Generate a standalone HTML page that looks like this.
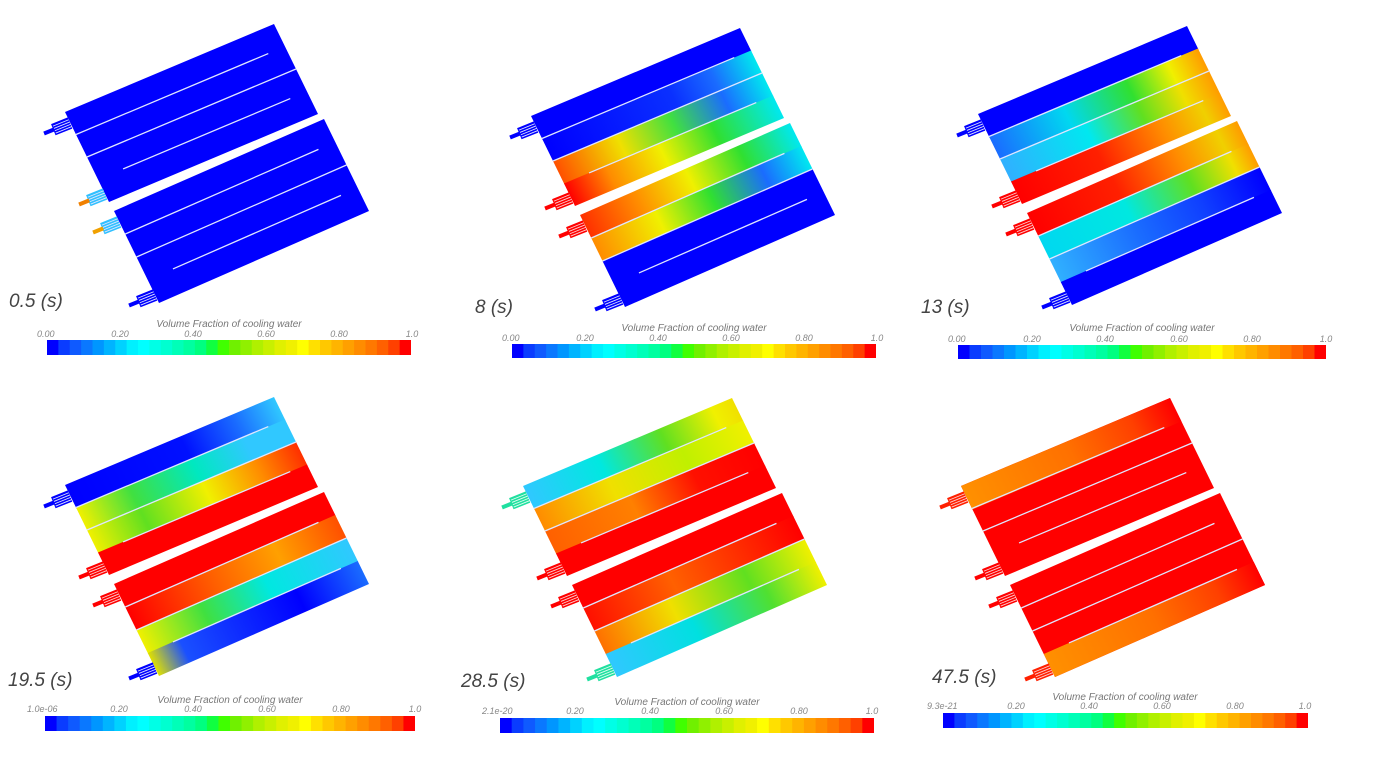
<!DOCTYPE html>
<html><head><meta charset="utf-8"><style>
html,body{margin:0;padding:0;background:#fff;}
svg{display:block;}
.t{font-family:"Liberation Sans",sans-serif;font-style:italic;fill:#444;font-size:19px;}
.lb{font-family:"Liberation Sans",sans-serif;font-style:italic;fill:#888;font-size:9px;}
.ti{font-family:"Liberation Sans",sans-serif;font-style:italic;fill:#777;font-size:10px;}
</style></head><body>
<svg width="1376" height="771" viewBox="0 0 1376 771" xmlns="http://www.w3.org/2000/svg">
<defs>
<symbol id="bar" viewBox="0 0 32 1" preserveAspectRatio="none">
<rect x="0" width="1.05" height="1" fill="#0000ff"/><rect x="1" width="1.05" height="1" fill="#0a3cff"/><rect x="2" width="1.05" height="1" fill="#0f5aff"/><rect x="3" width="1.05" height="1" fill="#0a78ff"/><rect x="4" width="1.05" height="1" fill="#0096ff"/><rect x="5" width="1.05" height="1" fill="#00b4ff"/><rect x="6" width="1.05" height="1" fill="#00d2ff"/><rect x="7" width="1.05" height="1" fill="#00f0ff"/>
<rect x="8" width="1.05" height="1" fill="#00ffff"/><rect x="9" width="1.05" height="1" fill="#00ffe6"/><rect x="10" width="1.05" height="1" fill="#00ffd0"/><rect x="11" width="1.05" height="1" fill="#00ffb8"/><rect x="12" width="1.05" height="1" fill="#00ffa0"/><rect x="13" width="1.05" height="1" fill="#00ff80"/><rect x="14" width="1.05" height="1" fill="#10ff40"/><rect x="15" width="1.05" height="1" fill="#40ff00"/>
<rect x="16" width="1.05" height="1" fill="#70f000"/><rect x="17" width="1.05" height="1" fill="#90f000"/><rect x="18" width="1.05" height="1" fill="#b0f000"/><rect x="19" width="1.05" height="1" fill="#c8f000"/><rect x="20" width="1.05" height="1" fill="#e0f000"/><rect x="21" width="1.05" height="1" fill="#f0f000"/><rect x="22" width="1.05" height="1" fill="#ffff00"/><rect x="23" width="1.05" height="1" fill="#ffe000"/>
<rect x="24" width="1.05" height="1" fill="#ffc800"/><rect x="25" width="1.05" height="1" fill="#ffb400"/><rect x="26" width="1.05" height="1" fill="#ffa000"/><rect x="27" width="1.05" height="1" fill="#ff8c00"/><rect x="28" width="1.05" height="1" fill="#ff7800"/><rect x="29" width="1.05" height="1" fill="#ff6000"/><rect x="30" width="1.05" height="1" fill="#ff4000"/><rect x="31" width="1" height="1" fill="#ff0000"/>
</symbol>
<!-- P2 -->
<linearGradient id="a2"><stop offset="0" stop-color="#0000ff"/><stop offset=".6" stop-color="#0a30ff"/><stop offset=".8" stop-color="#1a6cff"/><stop offset="1" stop-color="#00e8f0"/></linearGradient>
<linearGradient id="a3"><stop offset="0" stop-color="#ff5000"/><stop offset=".3" stop-color="#f0e000"/><stop offset=".55" stop-color="#40e040"/><stop offset=".8" stop-color="#1a6cff"/><stop offset="1" stop-color="#00e8f0"/></linearGradient>
<linearGradient id="a4"><stop offset="0" stop-color="#ff0000"/><stop offset=".2" stop-color="#ff8c00"/><stop offset=".45" stop-color="#f0f000"/><stop offset=".7" stop-color="#30e030"/><stop offset="1" stop-color="#00e8f0"/></linearGradient>
<linearGradient id="a5"><stop offset="0" stop-color="#ff3000"/><stop offset=".25" stop-color="#ff8c00"/><stop offset=".5" stop-color="#f0f000"/><stop offset=".75" stop-color="#30e030"/><stop offset="1" stop-color="#00e8f0"/></linearGradient>
<linearGradient id="a6"><stop offset="0" stop-color="#ff8c00"/><stop offset=".3" stop-color="#f0f000"/><stop offset=".55" stop-color="#30e030"/><stop offset=".8" stop-color="#1a6cff"/><stop offset="1" stop-color="#00e8f0"/></linearGradient>
<!-- P3 -->
<linearGradient id="b2"><stop offset="0" stop-color="#1a6cff"/><stop offset=".35" stop-color="#00d8f0"/><stop offset=".65" stop-color="#30e030"/><stop offset=".85" stop-color="#f0f000"/><stop offset="1" stop-color="#ff9c00"/></linearGradient>
<linearGradient id="b3"><stop offset="0" stop-color="#30b0ff"/><stop offset=".4" stop-color="#00e8f0"/><stop offset=".65" stop-color="#60e020"/><stop offset=".85" stop-color="#f0e000"/><stop offset="1" stop-color="#ff9c00"/></linearGradient>
<linearGradient id="b4"><stop offset="0" stop-color="#ff0000"/><stop offset=".4" stop-color="#ff2000"/><stop offset=".7" stop-color="#ff8c00"/><stop offset=".9" stop-color="#f0d000"/><stop offset="1" stop-color="#ff9c00"/></linearGradient>
<linearGradient id="b6"><stop offset="0" stop-color="#00d8f0"/><stop offset=".4" stop-color="#00e8e0"/><stop offset=".7" stop-color="#60e020"/><stop offset=".9" stop-color="#f0e000"/><stop offset="1" stop-color="#ff9c00"/></linearGradient>
<linearGradient id="b7"><stop offset="0" stop-color="#30b0ff"/><stop offset=".4" stop-color="#1a6cff"/><stop offset=".7" stop-color="#1040ff"/><stop offset="1" stop-color="#0000ff"/></linearGradient>
<!-- P4 -->
<linearGradient id="c1"><stop offset="0" stop-color="#0000ff"/><stop offset=".55" stop-color="#0010ff"/><stop offset=".8" stop-color="#1a6cff"/><stop offset="1" stop-color="#30c8ff"/></linearGradient>
<linearGradient id="c2"><stop offset="0" stop-color="#f0f000"/><stop offset=".25" stop-color="#40e040"/><stop offset=".55" stop-color="#00e8c0"/><stop offset=".8" stop-color="#30c8ff"/><stop offset="1" stop-color="#30c8ff"/></linearGradient>
<linearGradient id="c3"><stop offset="0" stop-color="#f0f000"/><stop offset=".25" stop-color="#60e020"/><stop offset=".55" stop-color="#f0f000"/><stop offset=".8" stop-color="#ff8c00"/><stop offset="1" stop-color="#ff3000"/></linearGradient>
<linearGradient id="c6"><stop offset="0" stop-color="#ff0000"/><stop offset=".4" stop-color="#ff6000"/><stop offset=".7" stop-color="#ffa000"/><stop offset="1" stop-color="#ff5000"/></linearGradient>
<linearGradient id="c7"><stop offset="0" stop-color="#f0f000"/><stop offset=".3" stop-color="#40e040"/><stop offset=".6" stop-color="#00e8e0"/><stop offset="1" stop-color="#30c8ff"/></linearGradient>
<linearGradient id="c8"><stop offset="0" stop-color="#e0e000"/><stop offset=".15" stop-color="#1a50ff"/><stop offset=".7" stop-color="#0000ff"/><stop offset="1" stop-color="#1a6cff"/></linearGradient>
<!-- P5 -->
<linearGradient id="d1"><stop offset="0" stop-color="#30c8ff"/><stop offset=".35" stop-color="#00e8e0"/><stop offset=".65" stop-color="#60e020"/><stop offset=".9" stop-color="#f0f000"/><stop offset="1" stop-color="#f0e000"/></linearGradient>
<linearGradient id="d2"><stop offset="0" stop-color="#ff8c00"/><stop offset=".35" stop-color="#f0e000"/><stop offset=".7" stop-color="#c0f000"/><stop offset="1" stop-color="#f0f000"/></linearGradient>
<linearGradient id="d3"><stop offset="0" stop-color="#ff6000"/><stop offset=".4" stop-color="#ff8000"/><stop offset=".7" stop-color="#ff1000"/><stop offset="1" stop-color="#ff0000"/></linearGradient>
<linearGradient id="d6"><stop offset="0" stop-color="#ff1000"/><stop offset=".4" stop-color="#ff6000"/><stop offset=".7" stop-color="#ff3000"/><stop offset="1" stop-color="#ff0000"/></linearGradient>
<linearGradient id="d7"><stop offset="0" stop-color="#ff7000"/><stop offset=".35" stop-color="#f0e000"/><stop offset=".7" stop-color="#60e020"/><stop offset="1" stop-color="#f0f000"/></linearGradient>
<linearGradient id="d8"><stop offset="0" stop-color="#30c8ff"/><stop offset=".4" stop-color="#00e0e0"/><stop offset=".75" stop-color="#50e030"/><stop offset="1" stop-color="#f0f000"/></linearGradient>
<!-- P6 -->
<linearGradient id="e1"><stop offset="0" stop-color="#ff9000"/><stop offset=".5" stop-color="#ff7000"/><stop offset=".8" stop-color="#ff4000"/><stop offset="1" stop-color="#ff0000"/></linearGradient>
<linearGradient id="e8"><stop offset="0" stop-color="#ff9000"/><stop offset=".5" stop-color="#ff7000"/><stop offset=".8" stop-color="#ff4000"/><stop offset="1" stop-color="#ff0000"/></linearGradient>
<g id="lines">
<line x1="0" y1=".25" x2=".92" y2=".25" stroke="#dfe6ff" stroke-width="1.3" vector-effect="non-scaling-stroke"/>
<line x1="0" y1=".5" x2="1" y2=".5" stroke="#dfe6ff" stroke-width="1.3" vector-effect="non-scaling-stroke"/>
<line x1=".12" y1=".75" x2=".92" y2=".75" stroke="#dfe6ff" stroke-width="1.3" vector-effect="non-scaling-stroke"/>
</g>
</defs>

<!-- PANEL 1 -->
<g>
<g transform="matrix(209,-88,44,90,65,112)"><rect width="1" height="1" fill="#0000ff"/><use href="#lines"/></g>
<g transform="matrix(210,-92,45,92,114,211)"><rect width="1" height="1" fill="#0000ff"/><use href="#lines"/></g>
</g>

<!-- PANEL 2 -->
<g transform="translate(466,4)">
<g transform="matrix(209,-88,44,90,65,112)"><rect width="1" height=".26" fill="#0000ff"/><rect y=".25" width="1" height=".26" fill="url(#a2)"/><rect y=".5" width="1" height=".26" fill="url(#a3)"/><rect y=".75" width="1" height=".25" fill="url(#a4)"/><use href="#lines"/></g>
<g transform="matrix(210,-92,45,92,114,211)"><rect width="1" height=".26" fill="url(#a5)"/><rect y=".25" width="1" height=".26" fill="url(#a6)"/><rect y=".5" width="1" height=".5" fill="#0000ff"/><use href="#lines"/></g>
</g>

<!-- PANEL 3 -->
<g transform="translate(913,2)">
<g transform="matrix(209,-88,44,90,65,112)"><rect width="1" height=".26" fill="#0000ff"/><rect y=".25" width="1" height=".26" fill="url(#b2)"/><rect y=".5" width="1" height=".26" fill="url(#b3)"/><rect y=".75" width="1" height=".25" fill="url(#b4)"/><use href="#lines"/></g>
<g transform="matrix(210,-92,45,92,114,211)"><rect width="1" height=".26" fill="url(#b4)"/><rect y=".25" width="1" height=".26" fill="url(#b6)"/><rect y=".5" width="1" height=".26" fill="url(#b7)"/><rect y=".75" width="1" height=".25" fill="#0000ff"/><use href="#lines"/></g>
</g>

<!-- PANEL 4 -->
<g transform="translate(0,373)">
<g transform="matrix(209,-88,44,90,65,112)"><rect width="1" height=".26" fill="url(#c1)"/><rect y=".25" width="1" height=".26" fill="url(#c2)"/><rect y=".5" width="1" height=".26" fill="url(#c3)"/><rect y=".75" width="1" height=".25" fill="#ff0000"/><use href="#lines"/></g>
<g transform="matrix(210,-92,45,92,114,211)"><rect width="1" height=".26" fill="#ff0000"/><rect y=".25" width="1" height=".26" fill="url(#c6)"/><rect y=".5" width="1" height=".26" fill="url(#c7)"/><rect y=".75" width="1" height=".25" fill="url(#c8)"/><use href="#lines"/></g>
</g>

<!-- PANEL 5 -->
<g transform="translate(458,374)">
<g transform="matrix(209,-88,44,90,65,112)"><rect width="1" height=".26" fill="url(#d1)"/><rect y=".25" width="1" height=".26" fill="url(#d2)"/><rect y=".5" width="1" height=".26" fill="url(#d3)"/><rect y=".75" width="1" height=".25" fill="#ff0000"/><use href="#lines"/></g>
<g transform="matrix(210,-92,45,92,114,211)"><rect width="1" height=".26" fill="#ff0000"/><rect y=".25" width="1" height=".26" fill="url(#d6)"/><rect y=".5" width="1" height=".26" fill="url(#d7)"/><rect y=".75" width="1" height=".25" fill="url(#d8)"/><use href="#lines"/></g>
</g>

<!-- PANEL 6 -->
<g transform="translate(896,374)">
<g transform="matrix(209,-88,44,90,65,112)"><rect width="1" height="1" fill="#ff0000"/><rect width="1" height=".26" fill="url(#e1)"/><use href="#lines"/></g>
<g transform="matrix(210,-92,45,92,114,211)"><rect width="1" height="1" fill="#ff0000"/><rect y=".75" width="1" height=".25" fill="url(#e8)"/><use href="#lines"/></g>
</g>

<!-- Inlets -->
<g>
<g transform="translate(70,123) rotate(-22)"><rect x="-18" y="-6" width="18" height="12" fill="#0000ff"/><path d="M-17,-3.5H0M-17,-1H0M-17,1.5H0M-17,4H0" stroke="#dfe6ff" stroke-width=".9"/><rect x="-28" y="-2" width="11" height="4" fill="#0000ff"/></g>
<g transform="translate(105,194) rotate(-22)"><rect x="-18" y="-6" width="18" height="12" fill="#30c0ff"/><path d="M-17,-3.5H0M-17,-1H0M-17,1.5H0M-17,4H0" stroke="#dfe6ff" stroke-width=".9"/><rect x="-28" y="-2" width="11" height="4" fill="#f08000"/></g>
<g transform="translate(119,222) rotate(-22)"><rect x="-18" y="-6" width="18" height="12" fill="#30c0ff"/><path d="M-17,-3.5H0M-17,-1H0M-17,1.5H0M-17,4H0" stroke="#dfe6ff" stroke-width=".9"/><rect x="-28" y="-2" width="11" height="4" fill="#f0a000"/></g>
<g transform="translate(155,295) rotate(-22)"><rect x="-18" y="-6" width="18" height="12" fill="#0000ff"/><path d="M-17,-3.5H0M-17,-1H0M-17,1.5H0M-17,4H0" stroke="#dfe6ff" stroke-width=".9"/><rect x="-28" y="-2" width="11" height="4" fill="#0000ff"/></g>
</g>
<g transform="translate(466,4)">
<g transform="translate(70,123) rotate(-22)"><rect x="-18" y="-6" width="18" height="12" fill="#0000ff"/><path d="M-17,-3.5H0M-17,-1H0M-17,1.5H0M-17,4H0" stroke="#dfe6ff" stroke-width=".9"/><rect x="-28" y="-2" width="11" height="4" fill="#0000ff"/></g>
<g transform="translate(105,194) rotate(-22)"><rect x="-18" y="-6" width="18" height="12" fill="#ff0000"/><path d="M-17,-3.5H0M-17,-1H0M-17,1.5H0M-17,4H0" stroke="#ffd0d0" stroke-width=".9"/><rect x="-28" y="-2" width="11" height="4" fill="#ff0000"/></g>
<g transform="translate(119,222) rotate(-22)"><rect x="-18" y="-6" width="18" height="12" fill="#ff0000"/><path d="M-17,-3.5H0M-17,-1H0M-17,1.5H0M-17,4H0" stroke="#ffd0d0" stroke-width=".9"/><rect x="-28" y="-2" width="11" height="4" fill="#ff0000"/></g>
<g transform="translate(155,295) rotate(-22)"><rect x="-18" y="-6" width="18" height="12" fill="#0000ff"/><path d="M-17,-3.5H0M-17,-1H0M-17,1.5H0M-17,4H0" stroke="#dfe6ff" stroke-width=".9"/><rect x="-28" y="-2" width="11" height="4" fill="#0000ff"/></g>
</g>
<g transform="translate(913,2)">
<g transform="translate(70,123) rotate(-22)"><rect x="-18" y="-6" width="18" height="12" fill="#0000ff"/><path d="M-17,-3.5H0M-17,-1H0M-17,1.5H0M-17,4H0" stroke="#dfe6ff" stroke-width=".9"/><rect x="-28" y="-2" width="11" height="4" fill="#0000ff"/></g>
<g transform="translate(105,194) rotate(-22)"><rect x="-18" y="-6" width="18" height="12" fill="#ff0000"/><path d="M-17,-3.5H0M-17,-1H0M-17,1.5H0M-17,4H0" stroke="#ffd0d0" stroke-width=".9"/><rect x="-28" y="-2" width="11" height="4" fill="#ff0000"/></g>
<g transform="translate(119,222) rotate(-22)"><rect x="-18" y="-6" width="18" height="12" fill="#ff0000"/><path d="M-17,-3.5H0M-17,-1H0M-17,1.5H0M-17,4H0" stroke="#ffd0d0" stroke-width=".9"/><rect x="-28" y="-2" width="11" height="4" fill="#ff0000"/></g>
<g transform="translate(155,295) rotate(-22)"><rect x="-18" y="-6" width="18" height="12" fill="#0000ff"/><path d="M-17,-3.5H0M-17,-1H0M-17,1.5H0M-17,4H0" stroke="#dfe6ff" stroke-width=".9"/><rect x="-28" y="-2" width="11" height="4" fill="#0000ff"/></g>
</g>
<g transform="translate(0,373)">
<g transform="translate(70,123) rotate(-22)"><rect x="-18" y="-6" width="18" height="12" fill="#0000ff"/><path d="M-17,-3.5H0M-17,-1H0M-17,1.5H0M-17,4H0" stroke="#dfe6ff" stroke-width=".9"/><rect x="-28" y="-2" width="11" height="4" fill="#0000ff"/></g>
<g transform="translate(105,194) rotate(-22)"><rect x="-18" y="-6" width="18" height="12" fill="#ff0000"/><path d="M-17,-3.5H0M-17,-1H0M-17,1.5H0M-17,4H0" stroke="#ffd0d0" stroke-width=".9"/><rect x="-28" y="-2" width="11" height="4" fill="#ff0000"/></g>
<g transform="translate(119,222) rotate(-22)"><rect x="-18" y="-6" width="18" height="12" fill="#ff0000"/><path d="M-17,-3.5H0M-17,-1H0M-17,1.5H0M-17,4H0" stroke="#ffd0d0" stroke-width=".9"/><rect x="-28" y="-2" width="11" height="4" fill="#ff0000"/></g>
<g transform="translate(155,295) rotate(-22)"><rect x="-18" y="-6" width="18" height="12" fill="#0000ff"/><path d="M-17,-3.5H0M-17,-1H0M-17,1.5H0M-17,4H0" stroke="#dfe6ff" stroke-width=".9"/><rect x="-28" y="-2" width="11" height="4" fill="#0000ff"/></g>
</g>
<g transform="translate(458,374)">
<g transform="translate(70,123) rotate(-22)"><rect x="-18" y="-6" width="18" height="12" fill="#20e0a0"/><path d="M-17,-3.5H0M-17,-1H0M-17,1.5H0M-17,4H0" stroke="#e0fff0" stroke-width=".9"/><rect x="-28" y="-2" width="11" height="4" fill="#20e0a0"/></g>
<g transform="translate(105,194) rotate(-22)"><rect x="-18" y="-6" width="18" height="12" fill="#ff0000"/><path d="M-17,-3.5H0M-17,-1H0M-17,1.5H0M-17,4H0" stroke="#ffd0d0" stroke-width=".9"/><rect x="-28" y="-2" width="11" height="4" fill="#ff0000"/></g>
<g transform="translate(119,222) rotate(-22)"><rect x="-18" y="-6" width="18" height="12" fill="#ff0000"/><path d="M-17,-3.5H0M-17,-1H0M-17,1.5H0M-17,4H0" stroke="#ffd0d0" stroke-width=".9"/><rect x="-28" y="-2" width="11" height="4" fill="#ff0000"/></g>
<g transform="translate(155,295) rotate(-22)"><rect x="-18" y="-6" width="18" height="12" fill="#20e0a0"/><path d="M-17,-3.5H0M-17,-1H0M-17,1.5H0M-17,4H0" stroke="#e0fff0" stroke-width=".9"/><rect x="-28" y="-2" width="11" height="4" fill="#20e0a0"/></g>
</g>
<g transform="translate(896,374)">
<g transform="translate(70,123) rotate(-22)"><rect x="-18" y="-6" width="18" height="12" fill="#ff2000"/><path d="M-17,-3.5H0M-17,-1H0M-17,1.5H0M-17,4H0" stroke="#ffd0d0" stroke-width=".9"/><rect x="-28" y="-2" width="11" height="4" fill="#ff2000"/></g>
<g transform="translate(105,194) rotate(-22)"><rect x="-18" y="-6" width="18" height="12" fill="#ff0000"/><path d="M-17,-3.5H0M-17,-1H0M-17,1.5H0M-17,4H0" stroke="#ffd0d0" stroke-width=".9"/><rect x="-28" y="-2" width="11" height="4" fill="#ff0000"/></g>
<g transform="translate(119,222) rotate(-22)"><rect x="-18" y="-6" width="18" height="12" fill="#ff0000"/><path d="M-17,-3.5H0M-17,-1H0M-17,1.5H0M-17,4H0" stroke="#ffd0d0" stroke-width=".9"/><rect x="-28" y="-2" width="11" height="4" fill="#ff0000"/></g>
<g transform="translate(155,295) rotate(-22)"><rect x="-18" y="-6" width="18" height="12" fill="#ff2000"/><path d="M-17,-3.5H0M-17,-1H0M-17,1.5H0M-17,4H0" stroke="#ffd0d0" stroke-width=".9"/><rect x="-28" y="-2" width="11" height="4" fill="#ff2000"/></g>
</g>

<!-- Time labels -->
<text class="t" x="9" y="307">0.5 (s)</text>
<text class="t" x="475" y="313">8 (s)</text>
<text class="t" x="921" y="313">13 (s)</text>
<text class="t" x="8" y="686">19.5 (s)</text>
<text class="t" x="461" y="687">28.5 (s)</text>
<text class="t" x="932" y="683">47.5 (s)</text>

<!-- Colorbars -->
<g transform="translate(47,340)">
<use href="#bar" x="0" y="0" width="364" height="15"/>
<text class="ti" x="182" y="-13" text-anchor="middle">Volume Fraction of cooling water</text>
<text class="lb" x="-10" y="-3">0.00</text><text class="lb" x="73" y="-3" text-anchor="middle">0.20</text><text class="lb" x="146" y="-3" text-anchor="middle">0.40</text><text class="lb" x="219" y="-3" text-anchor="middle">0.60</text><text class="lb" x="292" y="-3" text-anchor="middle">0.80</text><text class="lb" x="365" y="-3" text-anchor="middle">1.0</text>
</g>
<g transform="translate(512,344)">
<use href="#bar" x="0" y="0" width="364" height="14"/>
<text class="ti" x="182" y="-13" text-anchor="middle">Volume Fraction of cooling water</text>
<text class="lb" x="-10" y="-3">0.00</text><text class="lb" x="73" y="-3" text-anchor="middle">0.20</text><text class="lb" x="146" y="-3" text-anchor="middle">0.40</text><text class="lb" x="219" y="-3" text-anchor="middle">0.60</text><text class="lb" x="292" y="-3" text-anchor="middle">0.80</text><text class="lb" x="365" y="-3" text-anchor="middle">1.0</text>
</g>
<g transform="translate(958,345)">
<use href="#bar" x="0" y="0" width="368" height="14"/>
<text class="ti" x="184" y="-14" text-anchor="middle">Volume Fraction of cooling water</text>
<text class="lb" x="-10" y="-3">0.00</text><text class="lb" x="74" y="-3" text-anchor="middle">0.20</text><text class="lb" x="147" y="-3" text-anchor="middle">0.40</text><text class="lb" x="221" y="-3" text-anchor="middle">0.60</text><text class="lb" x="294" y="-3" text-anchor="middle">0.80</text><text class="lb" x="368" y="-3" text-anchor="middle">1.0</text>
</g>
<g transform="translate(45,716)">
<use href="#bar" x="0" y="0" width="370" height="15"/>
<text class="ti" x="185" y="-13" text-anchor="middle">Volume Fraction of cooling water</text>
<text class="lb" x="-18" y="-4">1.0e-06</text><text class="lb" x="74" y="-4" text-anchor="middle">0.20</text><text class="lb" x="148" y="-4" text-anchor="middle">0.40</text><text class="lb" x="222" y="-4" text-anchor="middle">0.60</text><text class="lb" x="296" y="-4" text-anchor="middle">0.80</text><text class="lb" x="370" y="-4" text-anchor="middle">1.0</text>
</g>
<g transform="translate(500,718)">
<use href="#bar" x="0" y="0" width="374" height="15"/>
<text class="ti" x="187" y="-13" text-anchor="middle">Volume Fraction of cooling water</text>
<text class="lb" x="-18" y="-4">2.1e-20</text><text class="lb" x="75" y="-4" text-anchor="middle">0.20</text><text class="lb" x="150" y="-4" text-anchor="middle">0.40</text><text class="lb" x="224" y="-4" text-anchor="middle">0.60</text><text class="lb" x="299" y="-4" text-anchor="middle">0.80</text><text class="lb" x="372" y="-4" text-anchor="middle">1.0</text>
</g>
<g transform="translate(943,713)">
<use href="#bar" x="0" y="0" width="365" height="15"/>
<text class="ti" x="182" y="-13" text-anchor="middle">Volume Fraction of cooling water</text>
<text class="lb" x="-16" y="-4">9.3e-21</text><text class="lb" x="73" y="-4" text-anchor="middle">0.20</text><text class="lb" x="146" y="-4" text-anchor="middle">0.40</text><text class="lb" x="219" y="-4" text-anchor="middle">0.60</text><text class="lb" x="292" y="-4" text-anchor="middle">0.80</text><text class="lb" x="362" y="-4" text-anchor="middle">1.0</text>
</g>
</svg>
</body></html>
